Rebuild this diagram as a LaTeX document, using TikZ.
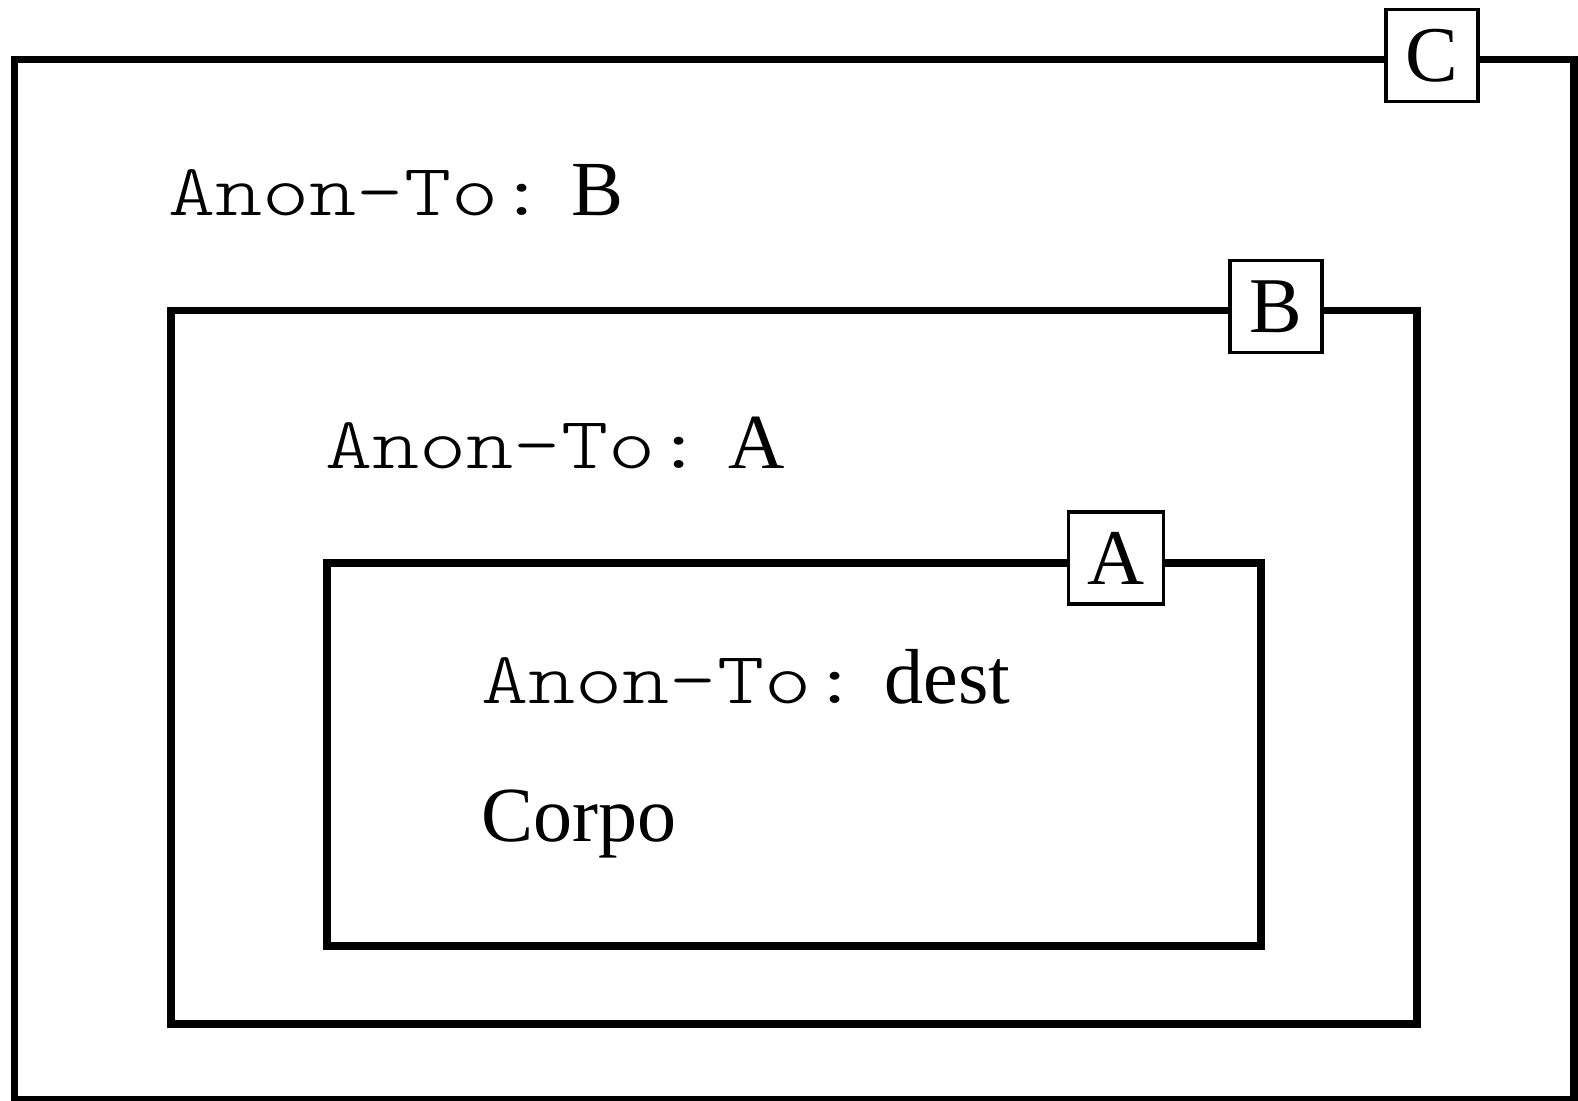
\documentclass[tikz,border=0pt]{standalone}
\usepackage{fontspec}
\setmainfont{Liberation Serif}
\newfontfamily\codefont{lmmonolt10-regular.otf}[FakeStretch=1.22]
\usetikzlibrary{fit}

\tikzset{
  frame/.style={draw, line width=3.6pt, inner sep=0pt, outer sep=0pt},
  tag/.style={draw, fill=white, line width=1.8pt, minimum size=46pt,
              inner sep=0pt, font=\fontsize{39.5}{40}\selectfont},
  txt/.style={anchor=base west, inner sep=0pt, font=\fontsize{39}{40}\selectfont},
}
\newcommand{\anonto}{{\fontsize{36.8}{40}\codefont Anon-To:}}

\begin{document}
\begin{tikzpicture}[x=0.5pt, y=-0.5pt]
\useasboundingbox (0,0) rectangle (1578,1101);

% caixas aninhadas
\node[frame, fit={(14.5,59.5) (1574,1100)}] (boxC) {};
\node[frame, fit={(171,310.5) (1417,1024)}] (boxB) {};
\node[frame, fit={(327,563) (1261,946)}] (boxA) {};

% etiquetas
\node[tag] at ([xshift=-71pt, yshift=2pt]boxC.north east) (tagC) {C};
\node[tag] at ([xshift=-70.5pt, yshift=2pt]boxB.north east) (tagB) {B};
\node[tag, minimum width=47.5pt] at ([xshift=-72.5pt, yshift=2.5pt]boxA.north east) (tagA) {A};

% textos
\node[txt] at (168,216) (hdrB) {\anonto{} B};
\node[txt] at (325,468) (hdrA) {\anonto{} A};
\node[txt] at (481,703) (hdrDest) {\anonto{} dest};
\node[txt] at (481,841) (body) {Corpo};
\end{tikzpicture}
\end{document}
